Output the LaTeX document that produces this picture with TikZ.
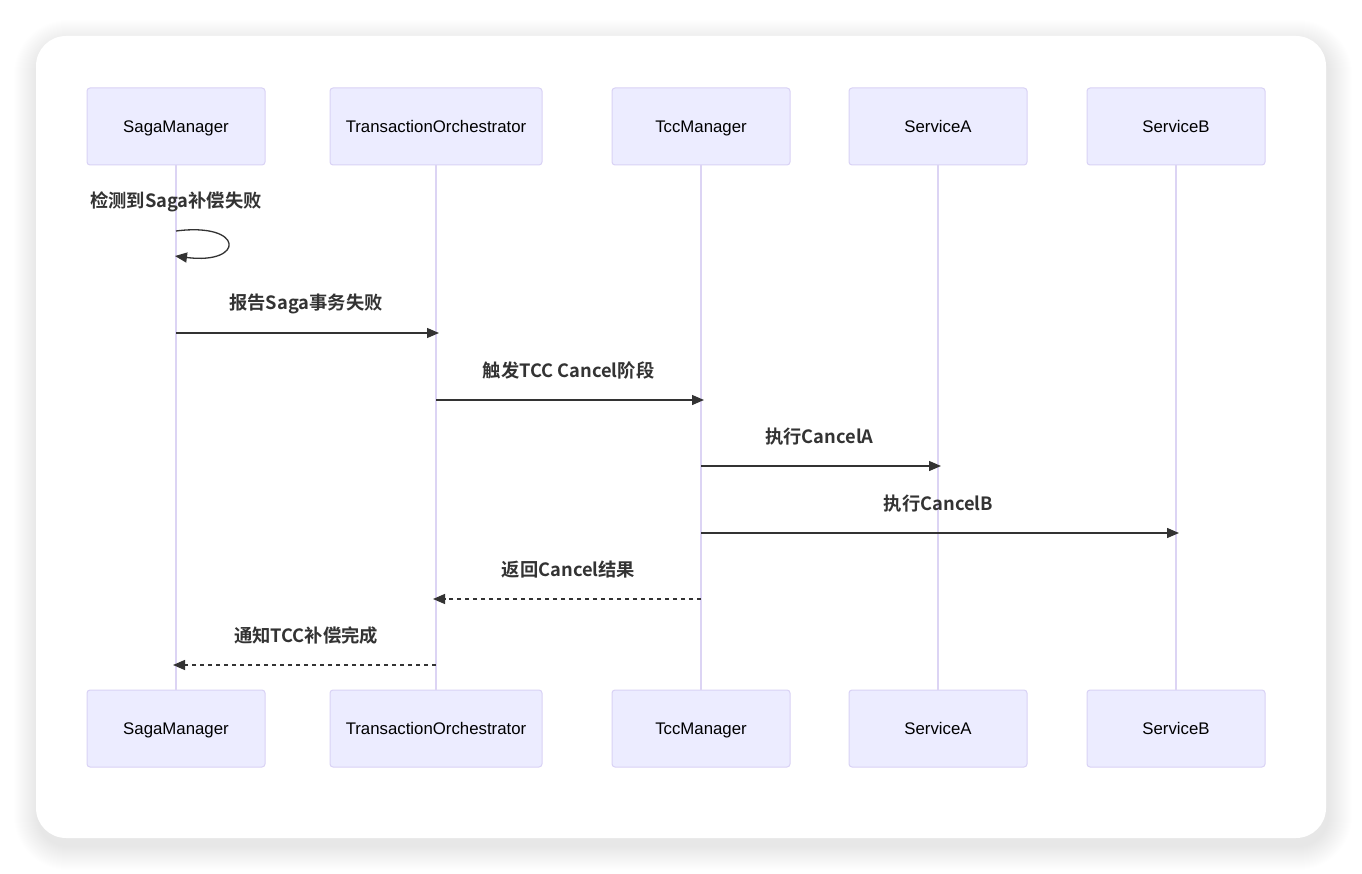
\documentclass[tikz,border=0pt]{standalone}
\usepackage{fontspec}
\setmainfont{Liberation Sans}
\newfontfamily\cjkb{Noto Sans CJK SC Bold}
\usetikzlibrary{arrows.meta}
\definecolor{actfill}{HTML}{ECECFF}
\definecolor{actline}{HTML}{D9D2F5}
\definecolor{lifel}{HTML}{DCD4F4}
\definecolor{ink}{HTML}{333333}
\tikzset{
  actor/.style={draw=actline, fill=actfill, line width=1pt, rounded corners=3pt, minimum width=178pt, minimum height=77pt, inner sep=0pt, font=\fontsize{16.8}{19}\selectfont, text=black, text height=12pt, text depth=0pt},
  lifeline/.style={draw=lifel, line width=2pt},
  msg/.style={draw=ink, line width=1.3pt, -{Triangle[length=12pt,width=10pt]}},
  reply/.style={msg, dash pattern=on 4pt off 4pt},
  lbl/.style={font=\cjkb\fontsize{18.3}{21}\selectfont, text=ink}
}
\begin{document}
\begin{tikzpicture}[x=1pt,y=-1pt]
\useasboundingbox (0,0) rectangle (1362,874);
\fill[white] (0,0) rectangle (1362,874);
% shadow
\foreach \i in {1,...,24}{
  \fill[black, opacity=0.0055, rounded corners={30pt+\i pt}] ({36-\i+2},{36-\i+8}) rectangle ({1326+\i+2},{838+\i+8});
}
\fill[white, rounded corners=30pt] (36,36) rectangle (1326,838);
% actors
\foreach \n/\x/\w/\t in {s/176/178/SagaManager, o/436/212/TransactionOrchestrator, c/701/178/TccManager, a/938/178/ServiceA, b/1176/178/ServiceB}{
  \node[actor, minimum width=\w pt] (\n top) at (\x,126.5) {\t};
  \node[actor, minimum width=\w pt] (\n bot) at (\x,728.5) {\t};
  \draw[lifeline] (\n top.south) -- (\n bot.north);
}
% self message
\node[lbl] (l0) at (176,201.5) {检测到Saga补偿失败};
\coordinate (s0a) at (176,231);
\coordinate (s0b) at (175,256);
\draw[msg] (s0a) .. controls (245,222) and (245,265) .. (s0b);
% messages
\foreach \y/\f/\t/\st/\txt in {
  333/s/o/msg/报告Saga事务失败,
  400/o/c/msg/触发TCC Cancel阶段,
  466/c/a/msg/执行CancelA,
  533/c/b/msg/执行CancelB,
  599/c/o/reply/返回Cancel结果,
  665/o/s/reply/通知TCC补偿完成}{
  \coordinate (f\y) at (\f top.south |- 0,\y);
  \coordinate (t\y) at (\t top.south |- 0,\y);
  \draw[\st, shorten >=-3pt] (f\y) -- (t\y);
  \path (f\y) -- (t\y) node[midway, lbl, yshift=29.5pt] (m\y) {\txt};
}
\end{tikzpicture}
\end{document}
